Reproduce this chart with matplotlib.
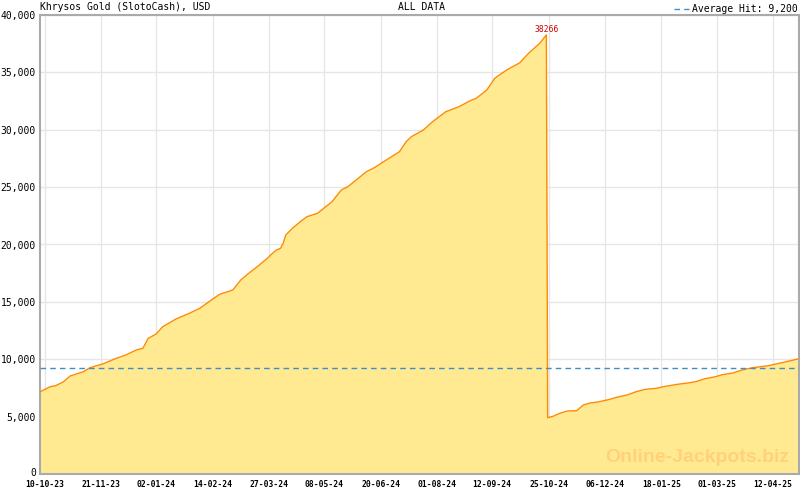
import numpy as np
import matplotlib
matplotlib.use('Agg')
import matplotlib.pyplot as plt
import matplotlib.dates as mdates
import matplotlib.transforms as mtransforms

# jackpot history
dates = ['2023-10-06', '2023-10-14', '2023-10-18', '2023-10-24', '2023-10-29',
         '2023-11-08', '2023-11-13', '2023-11-18', '2023-11-22', '2023-12-03',
         '2023-12-10', '2023-12-18', '2023-12-23', '2023-12-27', '2024-01-02',
         '2024-01-07', '2024-01-17', '2024-01-27', '2024-02-04', '2024-02-12',
         '2024-02-19', '2024-02-29', '2024-03-06', '2024-03-12', '2024-03-20',
         '2024-03-26', '2024-03-30', '2024-04-02', '2024-04-05', '2024-04-07',
         '2024-04-09', '2024-04-14', '2024-04-20', '2024-04-25', '2024-05-03',
         '2024-05-14', '2024-05-21', '2024-05-26', '2024-06-09', '2024-06-15',
         '2024-06-24', '2024-07-04', '2024-07-09', '2024-07-13', '2024-07-22',
         '2024-07-29', '2024-08-08', '2024-08-18', '2024-08-26', '2024-08-31',
         '2024-09-08', '2024-09-14', '2024-09-23', '2024-10-03', '2024-10-10',
         '2024-10-18', '2024-10-23',
         '2024-10-24', '2024-10-28', '2024-11-02', '2024-11-08', '2024-11-15',
         '2024-11-20', '2024-11-25', '2024-12-01', '2024-12-10', '2024-12-15',
         '2024-12-23', '2024-12-30', '2025-01-06', '2025-01-14', '2025-01-21',
         '2025-01-30', '2025-02-07', '2025-02-13', '2025-02-20', '2025-02-28',
         '2025-03-05', '2025-03-13', '2025-03-20', '2025-03-28', '2025-04-09',
         '2025-04-19', '2025-04-28', '2025-05-01']
values = [7150, 7608, 7695, 8044, 8540,
          8915, 9264, 9438, 9560, 10083,
          10370, 10806, 10951, 11823, 12200,
          12837, 13508, 14000, 14438, 15102,
          15657, 16035, 16906, 17489, 18213,
          18795, 19230, 19521, 19665, 20100,
          20828, 21410, 21990, 22420, 22720,
          23733, 24750, 25040, 26347, 26694,
          27364, 28090, 28960, 29395, 29978,
          30702, 31574, 32010, 32505, 32740,
          33464, 34484, 35207, 35844, 36715,
          37530, 38266,
          4909, 5025, 5286, 5490, 5520,
          6013, 6187, 6274, 6506, 6681,
          6884, 7174, 7378, 7465, 7640,
          7814, 7930, 8044, 8305, 8479,
          8654, 8802, 9063, 9264, 9438,
          9699, 9935, 10022]

tick_dates = ['2023-10-10', '2023-11-21', '2024-01-02', '2024-02-14', '2024-03-27',
              '2024-05-08', '2024-06-20', '2024-08-01', '2024-09-12', '2024-10-25',
              '2024-12-06', '2025-01-18', '2025-03-01', '2025-04-12']
y_ticks = [0, 5000, 10000, 15000, 20000, 25000, 30000, 35000, 40000]

average_hit = 9200
peak_value = 38266
peak_date = '2024-10-23'

x = np.array([mdates.datestr2num(d) for d in dates])
y = np.array(values)
xt = np.array([mdates.datestr2num(d) for d in tick_dates])

mono = 'DejaVu Sans Mono'
grey = '#aaaaaa'

fig = plt.figure(figsize=(8, 4.9), dpi=100)
ax = fig.add_axes([40 / 800, 16 / 490, 759 / 800, 459 / 490])

ax.fill_between(x, y, 0, color='#ffea92', lw=0, zorder=2)
ax.plot(x, y, color='#ff8a00', lw=1.0, zorder=3)
ax.axhline(average_hit, color='#3d8fc6', lw=1.0, ls=(0, (4, 3)), zorder=4,
           label='Average Hit: 9,200')

ax.text(mdates.datestr2num(peak_date), peak_value + 50, str(peak_value),
        color='#cc0000', fontsize=5.8, family=mono, ha='center', va='bottom')

ax.set_xlim(xt[0] - 3.8, xt[0] + 570)
ax.set_ylim(0, 40000)

ax.set_xticks(xt)
ax.set_xticklabels([mdates.num2date(t).strftime('%d-%m-%y') for t in xt])
step = (xt[1] - xt[0]) / 7
ax.set_xticks(np.arange(xt[0], xt[0] + 570, step), minor=True)
ax.set_yticks(y_ticks)
ax.set_yticklabels(['{:,}'.format(v) for v in y_ticks])

ax.tick_params(axis='x', which='major', direction='in', length=6, width=1,
               color=grey, pad=4, labelsize=5.8)
ax.tick_params(axis='x', which='minor', direction='in', length=3, width=1,
               color=grey)
ax.tick_params(axis='y', length=0, pad=3, labelsize=7)
for lab in ax.get_xticklabels() + ax.get_yticklabels():
    lab.set_family(mono)
for lab in ax.get_xticklabels():
    lab.set_fontweight('bold')
# lift the zero label a couple of pixels so it clears the first date label
zero = ax.get_yticklabels()[0]
zero.set_transform(zero.get_transform()
                   + mtransforms.ScaledTranslation(0, 2 / 100, fig.dpi_scale_trans))

ax.grid(True, which='major', color='#e6e6e6', lw=1)
ax.set_axisbelow(True)
for s in ax.spines.values():
    s.set_color(grey)
    s.set_linewidth(1.5)

fig.text(40 / 800, 1 - 7 / 490, 'Khrysos Gold (SlotoCash), USD', family=mono,
         fontsize=7, va='center', ha='left')
fig.text(421 / 800, 1 - 7 / 490, 'ALL DATA', family=mono, fontsize=7,
         va='center', ha='center')
ax.legend(loc='lower right', bbox_to_anchor=(1.0, 1.0), frameon=False,
          prop={'family': mono, 'size': 7}, handlelength=1.6,
          handletextpad=0.3, borderpad=0.1, borderaxespad=0.0)

ax.text(0.987, 0.026, 'Online-Jackpots.biz', transform=ax.transAxes,
        family='Liberation Sans', fontweight='bold', fontsize=14,
        color='#ffd27a', ha='right', va='baseline', zorder=5)

fig.savefig('out.png', dpi=100)
